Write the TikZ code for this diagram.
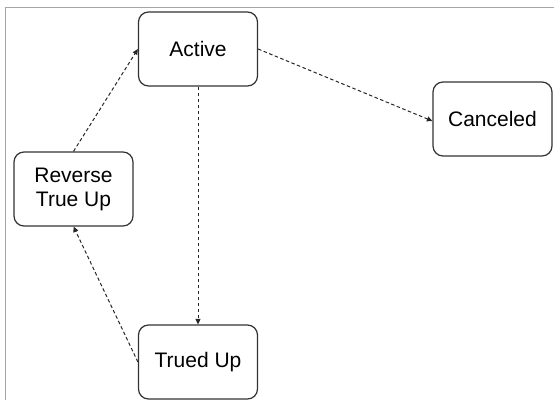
\documentclass[tikz,border=0pt]{standalone}
\usepackage{fontspec}
\setmainfont{Liberation Sans}
\usepackage{tikz}
\usetikzlibrary{arrows.meta}
\begin{document}
\begin{tikzpicture}[x=1pt,y=-1pt,
	state/.style={draw=black!80,line width=1.2pt,rounded corners=10pt,fill=white,
		minimum width=119pt,minimum height=74pt,align=center,
		font=\fontsize{21}{24}\selectfont},
	trans/.style={draw=black!85,line width=1pt,dash pattern=on 3.5pt off 2.5pt,
		-{Triangle[length=5.5pt,width=5pt]}}]
	\useasboundingbox (0,0) rectangle (554,400);
	% 边框
	\draw[black!35,line width=1pt] (5,400) -- (5,7) -- (554,7);
	
	% 状态
	\node[state] (active) at (198,49) {Active};
	\node[state] (reverse) at (73.5,189) {Reverse\\True Up};
	\node[state] (trued) at (198,362) {Trued Up};
	\node[state] (canceled) at (492.5,119) {Canceled};
	
	% 转换
	\draw[trans] (reverse.north) -- (active.west);
	\draw[trans] (active.south) -- (trued.north);
	\draw[trans] (active.east) -- ([yshift=-2pt]canceled.west);
	\draw[trans] (trued.west) -- (reverse.south);
\end{tikzpicture}
\end{document}
